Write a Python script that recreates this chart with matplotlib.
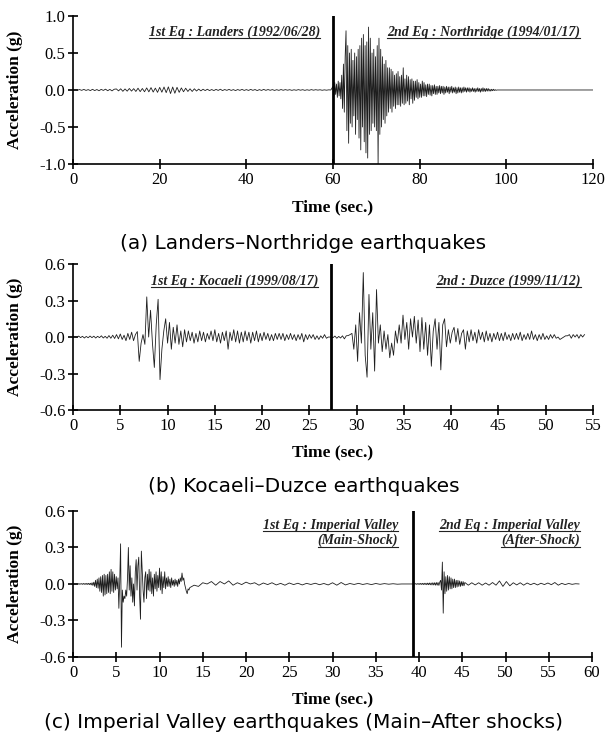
import matplotlib
matplotlib.use("Agg")
import matplotlib.pyplot as plt
from matplotlib.lines import Line2D
import numpy as np

# --- panel (a): Landers (dt 0.5 s) then Northridge (dt 0.2 s from 60 s) ---
landers_dt = 0.5
landers_acc = [
    0.0, 0.004, -0.004, 0.006, -0.005, 0.008, -0.006, 0.005, -0.008, 0.009,
    -0.008, 0.006, -0.01, 0.008, -0.006, 0.011, -0.01, 0.008, -0.012, 0.01,
    0.014, -0.012, 0.016, -0.018, 0.014, -0.016, 0.02, -0.015, 0.018, -0.02,
    0.024, -0.022, 0.02, -0.024, 0.028, -0.025, 0.032, -0.028, 0.025, -0.032,
    0.035, -0.03, 0.04, -0.036, 0.042, -0.048, 0.04, -0.044, 0.036, -0.032,
    0.028, -0.024, 0.024, -0.02, 0.016, -0.02, 0.016, -0.014, 0.012, -0.012,
    0.01, -0.008, 0.01, -0.008, 0.006, -0.008, 0.008, -0.006, 0.01, -0.008,
    0.006, -0.005, 0.008, -0.006, 0.005, -0.008, 0.006, -0.005, 0.008, -0.006,
    0.005, -0.006, 0.008, -0.005, 0.006, -0.008, 0.005, -0.006, 0.008, -0.005,
    0.006, -0.004, 0.005, -0.006, 0.004, -0.005, 0.006, -0.004, 0.005, -0.003,
    0.004, -0.005, 0.003, -0.004, 0.005, -0.003, 0.004, -0.005, 0.003, -0.004,
    0.005, -0.003, 0.004, -0.002, 0.003, -0.004, 0.002, -0.003, 0.002, 0.0,
]
northridge_t0 = 60.0
northridge_dt = 0.2
northridge_acc = [
    0.05, -0.08, 0.1, -0.06, 0.08,  -0.1, 0.12, -0.08, 0.1, -0.12,
    0.2, -0.25, 0.35, -0.3, 0.45,  0.8, -0.55, 0.6, -0.72, 0.5,
    -0.45, 0.55, -0.5, 0.4, -0.35,  0.5, -0.6, 0.45, -0.4, 0.55,
    -0.65, 0.6, -0.81, 0.7, -0.5,  0.75, -0.7, 0.6, -0.85, 0.65,
    -0.92, 0.85, -0.6, 0.7, -0.55,  0.5, -0.45, 0.55, -0.5, 0.45,
    -0.55, 0.6, -1.0, 0.7, -0.6,  0.55, -0.5, 0.45, -0.4, 0.35,
    -0.45, 0.4, -0.35, 0.3, -0.3,  0.3, -0.25, 0.28, -0.3, 0.25,
    -0.22, 0.2, -0.25, 0.22, -0.2,  0.25, -0.2, 0.18, -0.22, 0.2,
    -0.18, 0.3, -0.2, 0.15, -0.18,  0.2, -0.15, 0.18, -0.2, 0.14,
    -0.12, 0.15, -0.18, 0.12, -0.14,  0.12, -0.1, 0.14, -0.12, 0.1,
    -0.1, 0.08, -0.1, 0.12, -0.08,  0.1, -0.08, 0.07, -0.09, 0.08,
    -0.06, 0.08, -0.07, 0.06, -0.08,  0.06, -0.05, 0.07, -0.06, 0.05,
    -0.06, 0.05, -0.04, 0.06, -0.05,  0.05, -0.04, 0.05, -0.06, 0.04,
    -0.04, 0.05, -0.03, 0.04, -0.05,  0.04, -0.03, 0.05, -0.04, 0.03,
    -0.03, 0.04, -0.05, 0.03, -0.04,  0.04, -0.03, 0.03, -0.04, 0.03,
    -0.03, 0.04, -0.02, 0.03, -0.03,  0.03, -0.02, 0.03, -0.03, 0.02,
    -0.02, 0.03, -0.02, 0.02, -0.03,  0.02, -0.02, 0.03, -0.02, 0.02,
    -0.03, 0.02, -0.02, 0.03, -0.02,  0.02, -0.02, 0.02, -0.015, 0.02,
    -0.015, 0.01, -0.015, 0.01, -0.01,  0.01, -0.008, 0.005, -0.005, 0.0,
]
a_end = 120.0

# --- panel (b): Kocaeli (dt 0.2 s) then Duzce (dt 0.2 s from 27.3 s) ---
kocaeli_dt = 0.2
kocaeli_acc = [
    0.0, 0.005, -0.005, 0.008, -0.005,  0.006, -0.008, 0.005, -0.006, 0.008,
    -0.005, 0.007, -0.008, 0.006, -0.005,  0.01, -0.008, 0.006, -0.01, 0.012,
    -0.01, 0.015, -0.012, 0.02, -0.015,  0.025, -0.02, 0.015, -0.03, 0.03,
    -0.02, 0.04, -0.03, 0.02, 0.045,  -0.2, -0.05, 0.02, -0.06, 0.33,
    0.0, 0.22, -0.05, -0.25, 0.1,  0.31, -0.35, -0.1, 0.05, 0.15,
    -0.05, 0.12, -0.1, 0.08, -0.05,  0.1, -0.06, 0.05, -0.08, 0.06,
    -0.04, 0.05, -0.03, 0.04, -0.05,  0.03, -0.04, 0.05, -0.03, 0.04,
    -0.04, 0.03, -0.02, 0.05, -0.03,  0.06, -0.04, 0.03, -0.05, 0.04,
    -0.03, 0.05, -0.1, 0.04, -0.03,  0.06, -0.04, 0.05, -0.05, 0.04,
    -0.04, 0.05, -0.03, 0.04, -0.05,  0.04, -0.03, 0.05, -0.04, 0.03,
    -0.03, 0.04, -0.02, 0.03, -0.03,  0.02, -0.03, 0.03, -0.02, 0.03,
    -0.02, 0.03, -0.03, 0.02, -0.02,  0.03, -0.02, 0.02, -0.03, 0.02,
    -0.02, 0.03, -0.04, 0.02, -0.02,  0.02, -0.01, 0.02, -0.02, 0.01,
    -0.02, 0.01, -0.01, 0.02, -0.01,  0.0, 0.0,
]
duzce_t0 = 27.3
duzce_dt = 0.2
duzce_acc = [
    0.0, -0.005, 0.008, -0.01, 0.005,  -0.008, 0.01, -0.015, 0.01, 0.012,
    0.02, 0.03, -0.1, 0.1, -0.2,  0.2, -0.05, 0.53, -0.15, -0.33,
    0.35, -0.1, 0.2, -0.28, 0.39,  -0.05, 0.1, -0.12, 0.05, -0.1,
    0.02, -0.17, -0.05, -0.15, 0.05,  -0.05, 0.1, -0.05, 0.18, -0.02,
    0.12, -0.1, 0.15, 0.0, 0.17,  -0.05, 0.14, -0.12, 0.16, -0.1,
    0.12, -0.15, 0.1, -0.24, 0.05,  0.15, -0.1, 0.12, -0.27, 0.1,
    0.15, -0.08, 0.06, -0.05, 0.04,  0.08, -0.04, 0.07, -0.06, 0.03,
    0.06, -0.1, 0.05, -0.04, 0.06,  -0.03, 0.04, -0.05, 0.06, -0.02,
    0.04, -0.04, 0.05, -0.03, 0.03,  -0.04, 0.03, -0.02, 0.04, -0.03,
    0.03, -0.03, 0.04, -0.02, 0.02,  -0.03, 0.03, -0.02, 0.03, -0.02,
    0.04, -0.03, 0.02, -0.02, 0.03,  -0.02, 0.05, -0.02, 0.02, -0.03,
    0.02, -0.02, 0.03, -0.02, 0.01,  -0.02, 0.02, -0.01, 0.02, -0.01,
    0.0, -0.02, -0.01, 0.0, 0.01,  0.01, 0.02, -0.01, 0.02, 0.0,
    0.02, -0.01, 0.02, 0.0, 0.02,
]

# --- panel (c): Imperial Valley main shock and after-shock ---
ivm_dt = 0.1
ivm_acc = [
    0.0, 0.0, 0.002, -0.002, 0.002, -0.002, 0.003, -0.003, 0.003, -0.002,
    0.003, -0.003, 0.004, -0.003, 0.004, -0.004, 0.005, -0.004, 0.005, -0.005,
    0.006, -0.008, 0.01, -0.012, 0.015, -0.02, 0.03, -0.03, 0.04, -0.035,
    0.05, -0.06, 0.06, -0.07, 0.07, -0.1, 0.08, -0.09, 0.07, -0.08,
    0.08, -0.07, 0.1, -0.08, 0.12, -0.06, 0.1, -0.07, 0.08, -0.05,
    0.06, -0.04, 0.05, -0.2, 0.02, 0.33, -0.52, -0.05, -0.15, -0.1,
    -0.12, -0.05, -0.1, 0.05, 0.3, -0.05, 0.15, -0.1, 0.05, -0.15,
    0.0, -0.18, 0.1, 0.2, -0.05, 0.15, 0.22, -0.1, -0.29, 0.27,
    0.1, -0.05, -0.15, 0.05, 0.1, -0.12, 0.08, -0.05, 0.12, -0.06,
    0.1, -0.08, 0.05, -0.1, 0.08, -0.04, 0.1, -0.06, 0.07, -0.03,
    0.13, -0.05, 0.1, -0.08, 0.06, -0.03, 0.1, -0.04, 0.05, -0.02,
    0.06, -0.02, 0.04, -0.03, 0.05, -0.01, 0.03, -0.02, 0.04, -0.01,
    0.03, -0.02, 0.04, 0.0, 0.05, 0.02, 0.09, 0.03, 0.05, 0.0,
    -0.03, -0.06, -0.08, -0.04, -0.05,
]
ivm_coda_t0 = 13.5
ivm_coda_dt = 0.5
ivm_coda_acc = [
    -0.03, -0.01, -0.02, 0.01, 0.0, 0.02, -0.01, 0.02, 0.0, 0.025,
    -0.01, 0.01, -0.005, 0.015, 0.0, 0.01, -0.01, 0.008, -0.005, 0.01,
    -0.008, 0.005, -0.01, 0.008, -0.005, 0.006, -0.008, 0.005, -0.004, 0.006,
    -0.006, 0.004, -0.008, 0.01, -0.01, 0.012, -0.008, 0.004, -0.004, 0.005,
    -0.004, 0.003, -0.005, 0.004, -0.003, 0.003, -0.002, 0.002, -0.002, 0.0,
    0.0, 0.0,
]
iva_t0 = 39.3
iva_dt = 0.1
iva_acc = [
    0.0, 0.002, -0.002, 0.003, -0.003, 0.003, -0.003, 0.004, -0.004, 0.005,
    -0.004, 0.005, -0.005, 0.006, -0.005, 0.006, -0.006, 0.007, -0.006, 0.008,
    -0.007, 0.008, -0.008, 0.01, -0.008, 0.01, -0.01, 0.012, -0.01, 0.012,
    -0.012, 0.015, 0.03, -0.05, 0.18, -0.24, 0.1, -0.08, 0.06, -0.06,
    0.07, -0.05, 0.06, -0.04, 0.05, -0.04, 0.04, -0.03, 0.04, -0.03,
    0.03, -0.025, 0.03, -0.02, 0.025, -0.02, 0.02, -0.015, 0.02, -0.015,
]
iva_coda_t0 = 45.3
iva_coda_dt = 0.4
iva_coda_acc = [
    0.012, -0.01, 0.01, -0.008, 0.01, -0.01, 0.008, -0.01, 0.012, -0.01,
    0.025, -0.02, 0.02, -0.015, 0.01, -0.008, 0.01, -0.01, 0.008, -0.006,
    0.006, -0.008, 0.006, -0.005, 0.008, -0.006, 0.012, -0.01, 0.005, -0.005,
    0.004, -0.003, 0.002, 0.0,
]


def series(t0, dt, vals):
    return t0 + dt * np.arange(len(vals)), np.asarray(vals)


t_a = np.concatenate([series(0, landers_dt, landers_acc)[0],
                      series(northridge_t0, northridge_dt, northridge_acc)[0], [a_end]])
y_a = np.concatenate([landers_acc, northridge_acc, [0.0]])
t_b = np.concatenate([series(0, kocaeli_dt, kocaeli_acc)[0],
                      series(duzce_t0, duzce_dt, duzce_acc)[0]])
y_b = np.concatenate([kocaeli_acc, duzce_acc])
t_c = np.concatenate([series(0, ivm_dt, ivm_acc)[0],
                      series(ivm_coda_t0, ivm_coda_dt, ivm_coda_acc)[0],
                      series(iva_t0, iva_dt, iva_acc)[0],
                      series(iva_coda_t0, iva_coda_dt, iva_coda_acc)[0]])
y_c = np.concatenate([ivm_acc, ivm_coda_acc, iva_acc, iva_coda_acc])

plt.rcParams['font.family'] = ['Liberation Serif', 'DejaVu Serif']
plt.rcParams['axes.unicode_minus'] = False

fig = plt.figure(figsize=(6.07, 7.40), dpi=100)

panels = [
    dict(t=t_a, y=y_a, xlim=(0, 120), xticks=np.arange(0, 121, 20),
         ylim=(-1.0, 1.0), yticks=[-1.0, -0.5, 0.0, 0.5, 1.0], split=60.0,
         rect=[0.1203, 0.7784, 0.8567, 0.2000], cap_y=0.6716,
         caption="(a) Landers\u2013Northridge earthquakes",
         notes=[(57.0, 0.78, ["1st Eq : Landers (1992/06/28)"]),
                (117.0, 0.78, ["2nd Eq : Northridge (1994/01/17)"])]),
    dict(t=t_b, y=y_b, xlim=(0, 55), xticks=np.arange(0, 56, 5),
         ylim=(-0.6, 0.6), yticks=[-0.6, -0.3, 0.0, 0.3, 0.6], split=27.3,
         rect=[0.1203, 0.4459, 0.8567, 0.1973], cap_y=0.342,
         caption="(b) Kocaeli\u2013Duzce earthquakes",
         notes=[(25.9, 0.46, ["1st Eq : Kocaeli (1999/08/17)"]),
                (53.7, 0.46, ["2nd : Duzce (1999/11/12)"])]),
    dict(t=t_c, y=y_c, xlim=(0, 60), xticks=np.arange(0, 61, 5),
         ylim=(-0.6, 0.6), yticks=[-0.6, -0.3, 0.0, 0.3, 0.6], split=39.3,
         rect=[0.1203, 0.1122, 0.8550, 0.1973], cap_y=0.023,
         caption="(c) Imperial Valley earthquakes (Main\u2013After shocks)",
         notes=[(37.6, 0.48, ["1st Eq : Imperial Valley", "(Main-Shock)"]),
                (58.6, 0.48, ["2nd Eq : Imperial Valley", "(After-Shock)"])]),
]

note_texts = []
for p in panels:
    ax = fig.add_axes(p['rect'])
    ax.plot(p['t'], p['y'], color='#1e1e1e', lw=0.6)
    ax.axvline(p['split'], color='black', lw=2.0)
    ax.set_xlim(*p['xlim'])
    ax.set_ylim(*p['ylim'])
    ax.set_xticks(p['xticks'])
    ax.set_yticks(p['yticks'])
    ax.yaxis.set_major_formatter(matplotlib.ticker.FormatStrFormatter('%.1f'))
    for s in ['top', 'right']:
        ax.spines[s].set_visible(False)
    for s in ['left', 'bottom']:
        ax.spines[s].set_linewidth(1.2)
    ax.tick_params(direction='inout', length=7, width=1.2, labelsize=12, pad=2)
    ax.set_ylabel("Acceleration (g)", fontsize=12.5, fontweight='bold')
    ax.yaxis.label.set_va('center')
    ax.yaxis.set_label_coords(-0.112, 0.5)
    ax.set_xlabel("Time (sec.)", fontsize=12.5, fontweight='bold')
    ax.xaxis.label.set_va('center')
    ax.xaxis.set_label_coords(0.5, -0.29)
    span = p['ylim'][1] - p['ylim'][0]
    for x, y, lines in p['notes']:
        for i, line in enumerate(lines):
            txt = ax.text(x, y - i * 0.104 * span, line, ha='right', va='center',
                          fontsize=10, fontweight='bold', fontstyle='italic',
                          color='#222222')
            note_texts.append(txt)
    fig.text(0.5, p['cap_y'], p['caption'], ha='center', va='center', fontsize=14.5,
             family=['DejaVu Sans'])

# underline the record labels
fig.canvas.draw()
renderer = fig.canvas.get_renderer()
inv = fig.transFigure.inverted()
for txt in note_texts:
    bb = txt.get_window_extent(renderer)
    (x0, y0), (x1, _) = inv.transform([(bb.x0, bb.y0), (bb.x1, bb.y1)])
    fig.add_artist(Line2D([x0, x1], [y0 + 0.001, y0 + 0.001], color='#222222',
                          lw=0.8, transform=fig.transFigure))

fig.savefig("out.png", dpi=100)
